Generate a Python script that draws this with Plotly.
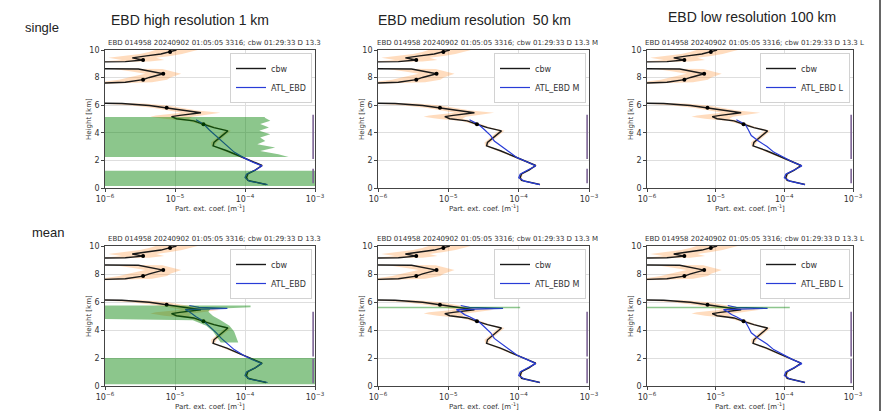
import plotly.graph_objects as go

W, H = 884, 411

# ---------------- text ----------------
row_titles = ["single", "mean"]
col_titles = ["EBD high resolution 1 km", "EBD medium resolution  50 km", "EBD low resolution 100 km"]
res_suffix = ["", " M", " L"]
panel_title = "EBD 014958 20240902 01:05:05 3316; cbw 01:29:33 D 13.3"
x_title = "Part. ext. coef. [m<sup>-1</sup>]"
y_title = "Height [km]"

x_tickvals = [1e-6, 1e-5, 1e-4, 1e-3]
x_ticktext = ["10<sup>−6</sup>", "10<sup>−5</sup>", "10<sup>−4</sup>", "10<sup>−3</sup>"]
y_tickvals = [0, 2, 4, 6, 8, 10]

# ---------------- data ----------------
# cbw profile (height km, extinction m^-1); 1e-7 = below plotted range
cbw_h = [10.0, 9.86, 9.71, 9.57, 9.43, 9.28, 9.16, 9.08, 8.70, 8.62, 8.44, 8.28, 8.01, 7.85,
         7.66, 7.45, 6.22, 6.12, 5.98, 5.81, 5.62, 5.45, 5.26, 5.17, 5.02, 4.86, 4.62, 4.38,
         4.14, 3.90, 3.60, 3.30, 3.05, 2.70, 2.30, 2.00, 1.63, 1.30, 1.03, 0.75, 0.55, 0.25]
cbw_ext = [1.05e-5, 8.5e-6, 6.3e-6, 3.9e-6, 2.45e-6, 3.5e-6, 1.95e-6, 1e-7, 1e-7, 3.0e-6,
           4.8e-6, 6.8e-6, 4.3e-6, 3.5e-6, 1.95e-6, 1e-7, 1e-7, 1.75e-6, 4.3e-6, 7.6e-6,
           1.3e-5, 2.35e-5, 1.17e-5, 8.9e-6, 1.05e-5, 1.85e-5, 2.55e-5, 3.6e-5, 5.7e-5,
           5.0e-5, 4.3e-5, 3.6e-5, 3.5e-5, 5.5e-5, 8.5e-5, 1.15e-4, 1.75e-4, 1.4e-4, 1.1e-4,
           1.05e-4, 1.1e-4, 2.0e-4]
# multiplicative uncertainty factor of cbw (orange band)
cbw_band = [2.0, 2.0, 2.0, 2.2, 2.2, 2.0, 2.2, 2.0, 2.0, 2.2, 2.0, 1.8, 2.0, 2.2,
            2.4, 2.0, 2.0, 2.0, 1.8, 1.6, 1.6, 1.9, 2.2, 2.0, 1.5, 1.2, 1.15, 1.1,
            1.1, 1.1, 1.1, 1.1, 1.05, 1.05, 1.05, 1.05, 1.05, 1.05, 1.05, 1.05, 1.05, 1.05]
cbw_mark_idx = [1, 5, 11, 13, 19, 26]

# ATL_EBD profiles
ebd_h = [4.95, 4.60, 4.20, 3.80, 3.40, 3.00, 2.60, 2.20, 1.90, 1.60, 1.30, 1.00, 0.75, 0.50, 0.25]
ebd_single_H = [2.0e-5, 2.6e-5, 3.1e-5, 3.8e-5, 4.6e-5, 5.6e-5, 7.0e-5, 9.5e-5, 1.25e-4, 1.75e-4, 1.4e-4, 1.05e-4, 1.0e-4, 1.15e-4, 2.1e-4]
ebd_single_M = [2.0e-5, 2.7e-5, 3.3e-5, 4.0e-5, 4.5e-5, 5.8e-5, 7.2e-5, 9.5e-5, 1.3e-4, 1.75e-4, 1.35e-4, 1.05e-4, 1.0e-4, 1.2e-4, 2.0e-4]
ebd_single_L = [2.0e-5, 2.7e-5, 3.0e-5, 3.3e-5, 4.2e-5, 5.6e-5, 7.0e-5, 9.8e-5, 1.3e-4, 1.8e-4, 1.4e-4, 1.05e-4, 1.0e-4, 1.2e-4, 2.0e-4]
ebd_mean_h = [5.75, 5.62, 5.55, 5.50, 5.45, 5.30, 5.10, 4.95, 4.60, 4.20, 3.80, 3.40, 3.00,
              2.60, 2.20, 1.90, 1.60, 1.30, 1.00, 0.75, 0.50, 0.25]
ebd_mean_H = [1.6e-5, 2.2e-5, 5.6e-5, 2.0e-5, 1.4e-5, 1.6e-5, 1.8e-5, 2.0e-5, 2.6e-5, 3.2e-5,
              3.9e-5, 4.6e-5, 5.6e-5, 7.0e-5, 9.5e-5, 1.25e-4, 1.75e-4, 1.4e-4, 1.05e-4,
              1.0e-4, 1.15e-4, 2.1e-4]
ebd_mean_M = [1.5e-5, 2.0e-5, 6.0e-5, 2.0e-5, 1.3e-5, 1.5e-5, 1.7e-5, 2.0e-5, 2.7e-5, 3.3e-5,
              4.0e-5, 4.5e-5, 5.8e-5, 7.2e-5, 9.5e-5, 1.3e-4, 1.75e-4, 1.35e-4, 1.05e-4,
              1.0e-4, 1.2e-4, 2.0e-4]
ebd_mean_L = [1.5e-5, 2.0e-5, 5.7e-5, 2.0e-5, 1.3e-5, 1.5e-5, 1.7e-5, 2.0e-5, 2.7e-5, 3.0e-5,
              3.3e-5, 4.2e-5, 5.6e-5, 7.0e-5, 9.8e-5, 1.3e-4, 1.8e-4, 1.4e-4, 1.05e-4,
              1.0e-4, 1.2e-4, 2.0e-4]

# green (EBD uncertainty) areas: heights and right-hand boundary, left side at the axis
green_sH1_h = [5.15, 5.07, 4.88, 4.63, 4.39, 4.15, 3.90, 3.66, 3.41, 3.17, 2.93, 2.68, 2.44, 2.24]
green_sH1_x = [1.9e-4, 1.95e-4, 2.3e-4, 1.65e-4, 2.2e-4, 1.6e-4, 2.3e-4, 1.65e-4, 1.95e-4, 1.5e-4, 2.7e-4, 1.65e-4, 3.0e-4, 4.2e-4]
green_sH2_h = [1.25, 0.15]
green_sH2_x = [2e-3, 2e-3]
green_mH1_h = [5.75, 5.62, 5.50, 5.30, 5.00, 4.70, 4.30, 3.90, 3.50, 3.10, 3.10, 3.50, 3.90, 4.30, 4.70, 4.85]
green_mH1_x = [1.2e-4, 1.2e-4, 3.2e-5, 3.0e-5, 3.5e-5, 4.5e-5, 6.0e-5, 7.0e-5, 7.5e-5, 8.0e-5, 4.5e-5, 4.0e-5, 3.5e-5, 2.8e-5, 1.8e-5, 1e-7]
green_mH2_h = [2.0, 0.12]
green_mH2_x = [2e-3, 2e-3]
green_mM_h = [5.66, 5.55]
green_mM_x = [1.05e-4, 1.05e-4]
green_mL_h = [5.66, 5.55]
green_mL_x = [1.2e-4, 1.2e-4]

# quality flag ranges (km) drawn at the right edge
flag_single = [(0.35, 1.40), (2.10, 5.30)]
flag_mean = [(0.20, 1.95), (2.10, 5.30)]

panels = [
    dict(ebd_h=ebd_h, ebd=ebd_single_H, green=[(green_sH1_h, green_sH1_x), (green_sH2_h, green_sH2_x)], flags=flag_single),
    dict(ebd_h=ebd_h, ebd=ebd_single_M, green=[], flags=flag_single),
    dict(ebd_h=ebd_h, ebd=ebd_single_L, green=[], flags=flag_single),
    dict(ebd_h=ebd_mean_h, ebd=ebd_mean_H, green=[(green_mH1_h, green_mH1_x), (green_mH2_h, green_mH2_x)], flags=flag_mean),
    dict(ebd_h=ebd_mean_h, ebd=ebd_mean_M, green=[(green_mM_h, green_mM_x)], flags=flag_mean),
    dict(ebd_h=ebd_mean_h, ebd=ebd_mean_L, green=[(green_mL_h, green_mL_x)], flags=flag_mean),
]

# ---------------- layout geometry (pixels) ----------------
col_px = [(105, 315), (378, 589), (647, 853)]
row_px = [(50, 188), (246, 386)]
LEFT_X = 1e-7

def px2x(p):
    return p / W

def px2y(p):
    return 1 - p / H

fig = go.Figure()
layout = dict(
    width=W, height=H, margin=dict(l=0, r=0, t=0, b=0),
    paper_bgcolor="white", plot_bgcolor="white", showlegend=True,
    font=dict(family="DejaVu Sans", color="#222"),
)
annotations = []
shapes = []

for r in range(2):
    for c in range(3):
        k = r * 3 + c + 1
        p = panels[k - 1]
        xa = "x" if k == 1 else f"x{k}"
        ya = "y" if k == 1 else f"y{k}"
        lg = "legend" if k == 1 else f"legend{k}"
        x0, x1 = col_px[c]
        y0, y1 = row_px[r]

        # orange band
        up = [e * f for e, f in zip(cbw_ext, cbw_band)]
        lo = [e / f for e, f in zip(cbw_ext, cbw_band)]
        fig.add_trace(go.Scatter(x=up + lo[::-1], y=cbw_h + cbw_h[::-1], fill="toself",
                                 fillcolor="rgba(255,140,40,0.30)", line=dict(width=0),
                                 mode="lines", hoverinfo="skip", showlegend=False,
                                 xaxis=xa, yaxis=ya, legend=lg))
        # cbw line
        fig.add_trace(go.Scatter(x=cbw_ext, y=cbw_h, mode="lines", name="cbw",
                                 line=dict(color="#1a1a1a", width=1.4),
                                 xaxis=xa, yaxis=ya, legend=lg))
        # ATL_EBD line
        fig.add_trace(go.Scatter(x=p["ebd"], y=p["ebd_h"], mode="lines",
                                 name="ATL_EBD" + res_suffix[c],
                                 line=dict(color="rgb(40,60,215)", width=1.2),
                                 xaxis=xa, yaxis=ya, legend=lg))
        # markers
        fig.add_trace(go.Scatter(x=[cbw_ext[i] for i in cbw_mark_idx], y=[cbw_h[i] for i in cbw_mark_idx],
                                 mode="markers", marker=dict(color="black", size=4),
                                 showlegend=False, xaxis=xa, yaxis=ya, legend=lg))
        # green areas
        for gh, gx in p["green"]:
            fig.add_trace(go.Scatter(x=[LEFT_X] + gx + [LEFT_X], y=[gh[0]] + gh + [gh[-1]],
                                     fill="toself", fillcolor="rgba(0,128,0,0.45)",
                                     line=dict(width=0), mode="lines", hoverinfo="skip",
                                     showlegend=False, xaxis=xa, yaxis=ya, legend=lg))
        # flags
        fx, fy = [], []
        for a, b in p["flags"]:
            fx += [9.4e-4, 9.4e-4, None]
            fy += [a, b, None]
        fig.add_trace(go.Scatter(x=fx, y=fy, mode="lines", line=dict(color="rgb(125,100,150)", width=1.6),
                                 showlegend=False, xaxis=xa, yaxis=ya, legend=lg))

        axis_common = dict(showline=True, mirror=True, linecolor="#444", linewidth=0.8,
                           showgrid=True, gridcolor="rgb(222,222,222)", gridwidth=0.8,
                           ticks="outside", ticklen=3, tickcolor="#444", tickwidth=0.8,
                           tickfont=dict(size=8, color="#333"), zeroline=False, automargin=False)
        layout["xaxis" if k == 1 else f"xaxis{k}"] = dict(
            axis_common, type="log", range=[-6, -3], domain=[px2x(x0), px2x(x1)],
            anchor=ya, tickvals=x_tickvals, ticktext=x_ticktext)
        layout["yaxis" if k == 1 else f"yaxis{k}"] = dict(
            axis_common, range=[0, 10], domain=[px2y(y1), px2y(y0)], anchor=xa,
            tickvals=y_tickvals)
        layout[lg] = dict(x=px2x(x1 - 3), y=px2y(y0 + 3), xanchor="right", yanchor="top",
                          bgcolor="white", bordercolor="rgb(210,210,210)",
                          borderwidth=1, font=dict(size=8, color="#333"), itemwidth=30,
                          tracegroupgap=0)

        # small panel title (centred over the panel)
        annotations.append(dict(text=panel_title + res_suffix[c], x=px2x((x0 + x1) / 2 + 4), y=px2y(y0 - 1),
                                xref="paper", yref="paper", xanchor="center", yanchor="bottom",
                                showarrow=False, font=dict(size=7, color="#333")))
        # axis titles
        annotations.append(dict(text=x_title, x=px2x((x0 + x1) / 2), y=px2y(y1 + 13),
                                xref="paper", yref="paper", xanchor="center", yanchor="top",
                                showarrow=False, font=dict(size=7, color="#333")))
        annotations.append(dict(text=y_title, x=px2x(x0 - 16), y=px2y((y0 + y1) / 2),
                                xref="paper", yref="paper", xanchor="center", yanchor="middle",
                                textangle=-90, showarrow=False, font=dict(size=7, color="#333")))

# column and row titles
col_title_px = [(190, 20), (474, 20), (752, 17)]
for t, (cx, cy) in zip(col_titles, col_title_px):
    annotations.append(dict(text=t, x=px2x(cx), y=px2y(cy), xref="paper", yref="paper",
                            xanchor="center", yanchor="middle", showarrow=False,
                            font=dict(size=14, color="#222", family="Liberation Sans")))
row_title_px = [(42, 27), (48, 232)]
for t, (cx, cy) in zip(row_titles, row_title_px):
    annotations.append(dict(text=t, x=px2x(cx), y=px2y(cy), xref="paper", yref="paper",
                            xanchor="center", yanchor="middle", showarrow=False,
                            font=dict(size=13, color="#222", family="Liberation Sans")))

shapes.append(dict(type="line", xref="paper", yref="paper", x0=px2x(880), x1=px2x(880), y0=0, y1=1,
                   line=dict(color="#333", width=1.5)))

layout["annotations"] = annotations
layout["shapes"] = shapes
fig.update_layout(**layout)
fig.write_html("out.html")
